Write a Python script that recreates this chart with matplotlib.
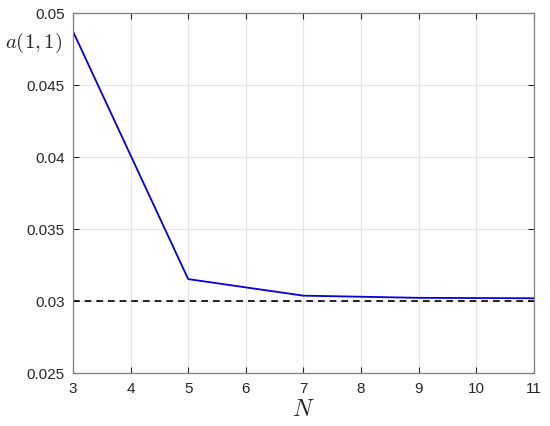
import numpy as np
import matplotlib
matplotlib.use("Agg")
import matplotlib.pyplot as plt

plt.rcParams['font.family'] = ['Liberation Sans', 'DejaVu Sans']
plt.rcParams['mathtext.fontset'] = 'cm'

N = [3, 5, 7, 9, 11]
a11 = [0.0487, 0.0315, 0.03035, 0.0302, 0.03017]
ref_value = 0.03
xticks = [3, 4, 5, 6, 7, 8, 9, 10, 11]
yticks = [0.025, 0.03, 0.035, 0.04, 0.045, 0.05]
yticklabels = ['0.025', '0.03', '0.035', '0.04', '0.045', '0.05']

fig = plt.figure(figsize=(5.5, 4.27), dpi=100)
ax = fig.add_axes([0.1327, 0.1248, 0.8377, 0.8432])

ax.plot(N, a11, color=(0, 0, 0.85), linewidth=1.3)
ax.axhline(ref_value, color='k', linestyle=(0, (4, 3)), linewidth=1.2)

ax.set_xlim(3, 11)
ax.set_ylim(0.025, 0.05)
ax.set_xticks(xticks)
ax.set_yticks(yticks)
ax.set_yticklabels(yticklabels)
ax.grid(True, color='#e3e3e3', linewidth=0.8)
ax.set_axisbelow(True)
ax.tick_params(direction='in', top=True, right=True, labelsize=11, colors='#262626',
               length=4, width=0.8, pad=6)
for s in ax.spines.values():
    s.set_color('#808080')
    s.set_linewidth(0.9)

fig.text(0.062, 0.9, r'$a(1,1)$', fontsize=15, ha='center', va='center', color='#262626')
ax.set_xlabel(r'$N$', fontsize=17, color='#262626', labelpad=2)

fig.savefig('out.png', dpi=100)
